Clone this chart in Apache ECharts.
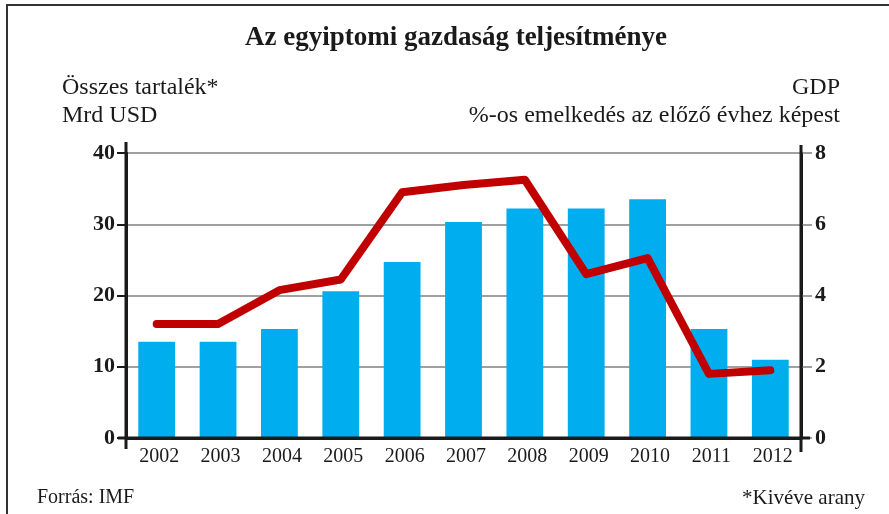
<!DOCTYPE html>
<html><head><meta charset="utf-8">
<script src="https://cdn.jsdelivr.net/npm/echarts@6/dist/echarts.min.js"></script>
<style>html,body{margin:0;padding:0;background:#fff}#c{width:889px;height:514px}</style>
</head><body><div id="c"></div>
<script>
const years = ['2002','2003','2004','2005','2006','2007','2008','2009','2010','2011','2012'];
const reserves = [13.5, 13.5, 15.3, 20.6, 24.7, 30.3, 32.2, 32.2, 33.5, 15.3, 11.0];
const gdpGrowth = [3.2, 3.2, 4.15, 4.45, 6.9, 7.1, 7.25, 4.6, 5.05, 1.8, 1.9];
const leftTicks = [0, 10, 20, 30, 40];
const rightTicks = [0, 2, 4, 6, 8];

const FONT = 'Liberation Serif';
const INK = '#1a1a1a';
function txt(text, x, y, size, align, bold) {
  return {type: 'text', x: x, y: y, silent: true, z: 20,
    style: {text: text, fill: INK, font: (bold ? 'bold ' : '') + size + 'px "' + FONT + '"',
            textAlign: align, textVerticalAlign: 'middle'}};
}
const chart = echarts.init(document.getElementById('c'), null, {renderer: 'canvas'});
chart.setOption({
  backgroundColor: '#fff',
  animation: false,
  grid: {left: 126, right: 88, top: 153, bottom: 76},
  xAxis: {
    type: 'category', data: years, boundaryGap: true,
    axisLine: {lineStyle: {color: INK, width: 3}},
    axisTick: {show: false},
    axisLabel: {fontFamily: FONT, fontSize: 20, color: INK, margin: 9, padding: [0, 0, 0, 5]}
  },
  yAxis: [
    {type: 'value', min: leftTicks[0], max: leftTicks[leftTicks.length-1], interval: 10, position: 'left',
     axisLine: {show: true, lineStyle: {color: INK, width: 3}},
     axisTick: {show: true, length: 9, lineStyle: {color: INK, width: 2}},
     axisLabel: {fontFamily: FONT, fontSize: 22, fontWeight: 'bold', color: INK, margin: 11},
     splitLine: {show: true, lineStyle: {color: '#808080', width: 1.5}}},
    {type: 'value', min: rightTicks[0], max: rightTicks[rightTicks.length-1], interval: 2, position: 'right',
     axisLine: {show: true, lineStyle: {color: INK, width: 3}},
     axisTick: {show: true, length: 11, lineStyle: {color: '#808080', width: 1.5}},
     axisLabel: {fontFamily: FONT, fontSize: 22, fontWeight: 'bold', color: INK, margin: 14},
     splitLine: {show: false}}
  ],
  series: [
    {type: 'bar', data: reserves, yAxisIndex: 0, barWidth: '60%',
     itemStyle: {color: '#00aeef'}, z: 2},
    {type: 'line', data: gdpGrowth, yAxisIndex: 1, symbol: 'none',
     lineStyle: {color: '#c00000', width: 8, cap: 'round', join: 'round'}, z: 3}
  ],
  graphic: [
    {type: 'rect', shape: {x: 7, y: 5, width: 1000, height: 1000}, style: {fill: 'none', stroke: '#333', lineWidth: 2}, silent: true},
    {type: 'line', shape: {x1: 126, y1: 142, x2: 126, y2: 449}, style: {stroke: INK, lineWidth: 3}, z: 10},
    {type: 'line', shape: {x1: 801, y1: 145, x2: 801, y2: 452}, style: {stroke: INK, lineWidth: 3}, z: 10},
    {type: 'line', shape: {x1: 118, y1: 438, x2: 810, y2: 438}, style: {stroke: INK, lineWidth: 3}, z: 10},
    txt('Az egyiptomi gazdaság teljesítménye', 456, 38, 27, 'center', true),
    txt('Összes tartalék*', 62, 88, 24, 'left', false),
    txt('Mrd USD', 62, 116, 24, 'left', false),
    txt('GDP', 840, 88, 24, 'right', false),
    txt('%-os emelkedés az előző évhez képest', 840, 116, 24, 'right', false),
    txt('Forrás: IMF', 37, 498, 20, 'left', false),
    txt('*Kivéve arany', 865, 498, 21, 'right', false)
  ]
});
</script></body></html>
